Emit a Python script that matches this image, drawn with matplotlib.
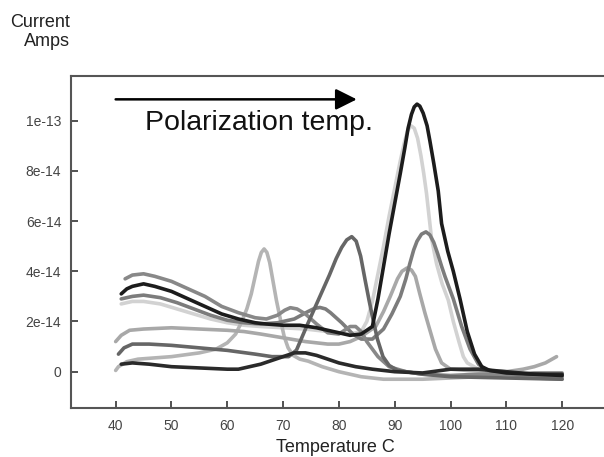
import matplotlib
matplotlib.use("Agg")
import matplotlib.pyplot as plt

plt.rcParams['font.family'] = ['Liberation Sans', 'DejaVu Sans']

SCALE = 1e-14  # current values below are in units of 1e-14 A

# top grey trace, small bumps near 72 and 82 C
temp_a = [41.7, 43, 45, 47, 50, 53, 56, 59, 62, 65, 67, 69, 70.3, 71.3, 72.5, 74, 76, 78,
          80, 81, 82, 83, 84, 85, 87, 89, 92, 95, 100, 105, 110, 115, 120]
amps_a = [3.7, 3.85, 3.9, 3.8, 3.6, 3.3, 3.0, 2.6, 2.35, 2.15, 2.1, 2.25, 2.45, 2.55, 2.5,
          2.3, 1.9, 1.55, 1.5, 1.65, 1.8, 1.8, 1.6, 1.2, 0.6, 0.2, 0.0, -0.1, -0.15, -0.1,
          -0.1, -0.05, -0.05]

# black trace, main peak at 94 C
temp_b = [41, 42, 43, 45, 47, 50, 53, 56, 59, 62, 65, 67, 70, 73, 76, 79, 82, 84, 86, 87,
          88, 89, 90, 91, 91.8, 92.4, 93, 93.5, 94, 94.5, 95.1, 95.8, 96.3, 97, 97.8, 98.4,
          99.5, 100.5, 101.7, 103, 104.3, 105.6, 107, 110, 115, 120]
amps_b = [3.1, 3.3, 3.4, 3.5, 3.4, 3.2, 2.9, 2.6, 2.3, 2.1, 1.95, 1.9, 1.85, 1.85, 1.75,
          1.6, 1.45, 1.5, 1.8, 2.9, 4.2, 5.5, 6.7, 7.9, 8.9, 9.7, 10.25, 10.55, 10.66, 10.58,
          10.3, 9.8, 9.2, 8.3, 7.2, 5.9, 4.8, 4.0, 2.9, 1.6, 0.7, 0.2, 0.05, -0.05, -0.1,
          -0.15]

# grey trace, bump at 77 C and peak at 95.6 C
temp_c = [41, 43, 45, 48, 51, 54, 57, 60, 63, 66, 69, 72, 74.5, 75.6, 76.6, 77.6, 78.5,
          80.5, 82.5, 84, 86, 88, 89.5, 91, 92, 92.7, 93.4, 94, 94.8, 95.6, 96.3, 97, 97.7,
          98.4, 99, 100.5, 102, 103.5, 105, 106.5, 110, 115, 120]
amps_c = [2.9, 3.0, 3.05, 2.95, 2.75, 2.5, 2.25, 2.05, 1.95, 1.9, 1.95, 2.1, 2.4, 2.52,
          2.56, 2.5, 2.35, 1.95, 1.5, 1.3, 1.3, 1.7, 2.3, 3.0, 3.7, 4.3, 4.85, 5.2, 5.48,
          5.57, 5.45, 5.15, 4.7, 4.2, 3.8, 2.9, 1.8, 0.9, 0.3, 0.05, -0.1, -0.2, -0.2]

# very light trace, peak at 93 C
temp_d = [41, 43, 45, 48, 51, 54, 57, 60, 63, 66, 70, 74, 78, 82, 84, 85, 86, 87, 88, 89,
          90, 91, 91.7, 92.3, 92.9, 93.5, 94.1, 94.7, 95.2, 95.7, 96.2, 96.6, 97.5, 98.5,
          99.6, 100.5, 101.5, 102.3, 103, 105, 110, 115, 120]
amps_d = [2.7, 2.8, 2.8, 2.7, 2.5, 2.3, 2.1, 1.95, 1.85, 1.8, 1.75, 1.7, 1.6, 1.5, 1.6,
          2.0, 2.8, 3.9, 5.0, 6.2, 7.3, 8.4, 9.1, 9.6, 9.8, 9.7, 9.3, 8.6, 7.9, 7.1, 6.1,
          5.3, 4.3, 3.5, 2.85, 2.0, 1.2, 0.6, 0.35, 0.1, 0.0, -0.1, -0.2]

# light grey trace, peak at 92 C, tail rising at the end
temp_e = [40, 41, 42.5, 45, 50, 55, 60, 63, 66, 70, 74, 78, 80, 82, 84, 86.6, 88, 89.2,
          90.5, 91.3, 92.2, 93, 93.7, 94.5, 95.4, 96.3, 97.3, 98.4, 100, 103, 110, 113,
          115, 117, 119]
amps_e = [1.2, 1.45, 1.65, 1.7, 1.75, 1.7, 1.65, 1.6, 1.5, 1.35, 1.2, 1.1, 1.1, 1.2, 1.4,
          1.8, 2.4, 3.0, 3.7, 4.0, 4.13, 4.05, 3.8, 3.1, 2.35, 1.66, 0.9, 0.35, 0.1, 0.05,
          0.0, 0.1, 0.2, 0.35, 0.6]

# dark grey trace, peak at 82 C
temp_f = [40.5, 41.5, 43, 46, 50, 55, 60, 65, 68, 71, 72.4, 74.3, 76.3, 78.3, 79.5, 80.5,
          81.4, 82.3, 83.1, 83.9, 84.7, 85.4, 86, 86.9, 87.9, 89, 90.5, 92, 95, 100, 110,
          120]
amps_f = [0.7, 0.95, 1.1, 1.1, 1.05, 0.95, 0.85, 0.7, 0.6, 0.6, 0.86, 1.85, 2.85, 3.85,
          4.5, 4.95, 5.25, 5.38, 5.2, 4.6, 3.65, 2.85, 2.2, 1.3, 0.6, 0.25, 0.05, 0.0, -0.1,
          -0.2, -0.25, -0.3]

# light grey trace, early peak at 66 C
temp_g = [40, 40.5, 42, 44, 47, 50, 55, 58, 60, 61.5, 62.5, 63.5, 64.3, 65, 65.6, 66.1,
          66.6, 67.1, 67.6, 68.2, 68.8, 69.5, 70.2, 70.9, 71.8, 73, 74.5, 77, 80, 84, 88,
          95, 105, 115, 120]
amps_g = [0.05, 0.2, 0.4, 0.5, 0.55, 0.6, 0.75, 0.9, 1.15, 1.5, 1.95, 2.5, 3.1, 3.8, 4.4,
          4.75, 4.89, 4.75, 4.35, 3.6, 2.85, 2.1, 1.4, 0.95, 0.65, 0.5, 0.42, 0.2, 0.0,
          -0.2, -0.3, -0.3, -0.2, -0.25, -0.3]

# black low trace, broad hump near 73 C
temp_h = [41, 43, 46, 50, 55, 60, 62, 64, 66, 68, 70, 72, 74, 76, 78, 80, 83, 86, 90, 95,
          100, 105, 110, 115, 120]
amps_h = [0.3, 0.35, 0.3, 0.2, 0.15, 0.1, 0.1, 0.2, 0.3, 0.45, 0.6, 0.75, 0.75, 0.65, 0.5,
          0.35, 0.2, 0.1, 0.0, -0.05, 0.1, 0.1, 0.0, -0.1, -0.1]

traces = [
    (temp_d, amps_d, '#d2d2d2'),
    (temp_g, amps_g, '#b4b4b4'),
    (temp_e, amps_e, '#a8a8a8'),
    (temp_c, amps_c, '#7c7c7c'),
    (temp_a, amps_a, '#888888'),
    (temp_f, amps_f, '#666666'),
    (temp_h, amps_h, '#2a2a2a'),
    (temp_b, amps_b, '#1c1c1c'),
]

x_ticks = [40, 50, 60, 70, 80, 90, 100, 110, 120]
y_ticks = [0, 2, 4, 6, 8, 10]
y_tick_labels = ['0', '2e-14', '4e-14', '6e-14', '8e-14', '1e-13']

fig = plt.figure(figsize=(6.04, 4.57), dpi=100)
ax = fig.add_axes([71 / 604, 49 / 457, 533 / 604, 332 / 457])

for t, a, c in traces:
    ax.plot(t, [v * SCALE for v in a], color=c, lw=2.6, solid_capstyle='round',
            solid_joinstyle='round')

ax.set_xlim(32.0, 127.5)
ax.set_ylim(-1.446 * SCALE, 11.78 * SCALE)

ax.set_xticks(x_ticks)
ax.set_xticklabels([str(t) for t in x_ticks])
ax.set_yticks([v * SCALE for v in y_ticks])
ax.set_yticklabels(y_tick_labels)
ax.tick_params(direction='in', length=5, width=1.2, color='#333333',
               labelsize=10, labelcolor='#444444')
ax.tick_params(axis='x', pad=8)
ax.tick_params(axis='y', pad=7)
# the middle ticks are barely visible
for tick in ax.xaxis.get_major_ticks():
    if 70 <= tick.get_loc() <= 100:
        tick.tick1line.set_color('#e4e4e4')

ax.spines['right'].set_visible(False)
for s in ['left', 'bottom', 'top']:
    ax.spines[s].set_color('#555555')
    ax.spines[s].set_linewidth(1.5)

# direction of polarization temperature
ax.annotate('', xy=(83.2, 10.85 * SCALE), xytext=(40.0, 10.85 * SCALE),
            arrowprops=dict(arrowstyle='-|>', mutation_scale=32, lw=1.8,
                            color='black', shrinkA=0, shrinkB=0))
ax.text(45.25, 9.63 * SCALE, 'Polarization temp.', fontsize=20.5, va='baseline',
        ha='left', color='#111111')

fig.text(70 / 604, 1 - 14 / 457, 'Current\nAmps', ha='right', va='top',
         multialignment='right', fontsize=13, linespacing=1.15, color='#222222')
fig.text(335 / 604, 1 - 452 / 457, 'Temperature C', ha='center', va='baseline',
         fontsize=13, color='#222222')

fig.savefig('out.png', dpi=100)
